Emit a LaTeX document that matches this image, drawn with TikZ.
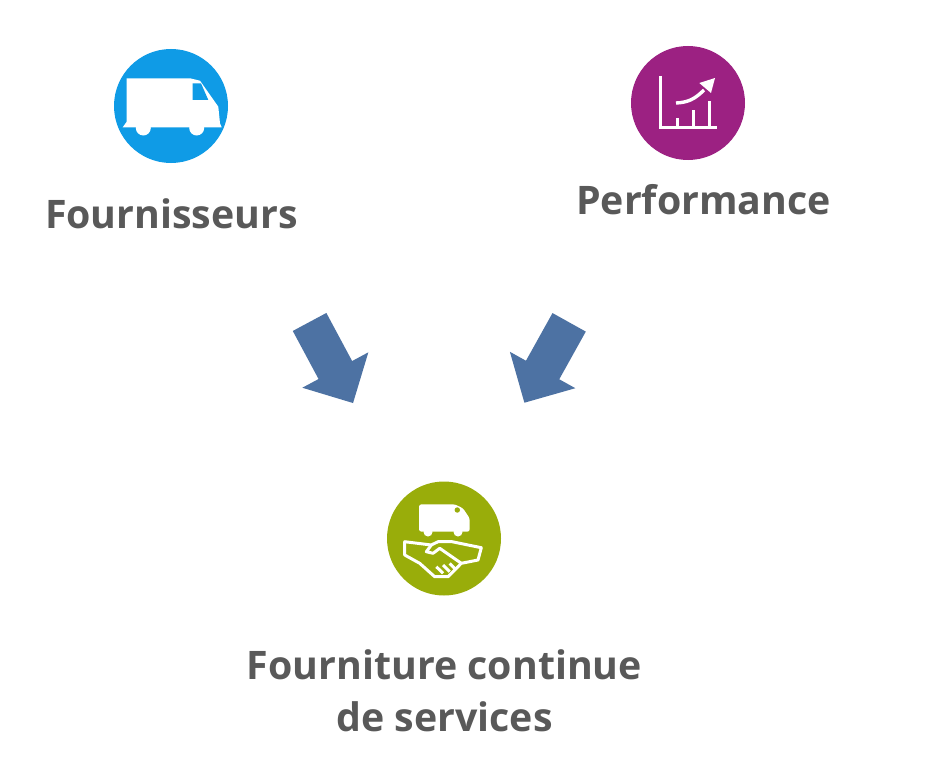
\documentclass[tikz,border=0pt]{standalone}
\usepackage{fontspec}
\setmainfont{Open Sans}
\usetikzlibrary{shapes.arrows,positioning}
\definecolor{azur}{HTML}{0F9BE6}
\definecolor{plum}{HTML}{9C2182}
\definecolor{olive}{HTML}{99AD0A}
\definecolor{steel}{HTML}{4D72A3}
\definecolor{dkgray}{HTML}{595959}
\tikzset{
  rond/.style={circle,fill=#1,minimum size=114pt,inner sep=0pt},
  titre/.style={font=\fontsize{39.3}{52.5}\selectfont\bfseries,align=center,text=dkgray},
  fleche/.style={single arrow,fill=steel,minimum height=92pt,text height=37.7pt,text depth=0pt,
                 text width=0pt,single arrow head extend=18.4pt,single arrow tip angle=90,
                 inner sep=0pt},
  trait/.style={draw=white,line width=3.4pt},
  fin/.style={draw=white,line width=3pt,line join=round},
}
\begin{document}
\begin{tikzpicture}[x=1pt,y=-1pt]
  \useasboundingbox[fill=white] (0,0) rectangle (947,765);

  \node[rond=azur] (four) at (171,106) {};
  \node[rond=plum] (perf) at (688,103) {};
  \node[rond=olive] (serv) at (444,538.5) {};

  \node[titre] (fourlbl) at (171.5,214) {Fournisseurs};
  \node[titre] (perflbl) at (703.5,200) {Performance};
  \node[titre] (servlbl) at (444.5,691) {Fourniture continue\\de services};

  \node[fleche,rotate=-61.8] (fl1) at (326.8,354.1) {};
  \node[fleche,rotate=-119.1] (fl2) at (551.4,354.2) {};

  % camion
  \fill[white] (126.7,78.3) -- (190,78.3) -- (200,80.7) -- (218.3,106.7) -- (220,123.3)
    -- (221.7,127.3) -- (122.7,127.3) -- (126.7,121.7) -- cycle;
  \fill[white] (143.3,128) circle (7.5pt) (196.7,128) circle (7.5pt);
  \fill[azur] (192.7,83.3) -- (201,83.3) -- (208.3,100) -- (192.7,100) -- cycle;

  % graphique
  \draw[trait] (660.7,76) -- (660.7,127.3) -- (716.7,127.3);
  \draw[trait,line width=3pt] (677.3,127) -- (677.3,118) (693.3,127) -- (693.3,109.7)
    (709,127) -- (709,101.3);
  \draw[trait] (676,103) .. controls (688,102.5) and (695,99) .. (704,90);
  \fill[white] (715,78) -- (699.3,83) -- (711,93) -- cycle;

  % camion et poignee de main
  \fill[white,rounded corners=2.5pt] (419,504.3) -- (454.7,504.3) -- (463,508.3) -- (469.7,518.3)
    -- (469.7,531.7) -- (419,531.7) -- cycle;
  \fill[white] (428,532) circle (4.5pt) (458,532) circle (4.5pt);
  \fill[olive] (457.3,510) circle (2.7pt);
  \draw[fin] (404.7,541.7) -- (431.3,545) -- (438,541.7) -- (452,541.7) -- (481.3,547.7) -- (478,560)
    -- (461.3,563.3) -- (448,576.7) -- (434.7,576.7) -- (419.7,563.3) -- (404.7,555) -- cycle;
  \draw[fin] (431.3,545) -- (426.3,551.7) -- (433,553.3) -- (439.7,548.3) -- (461.3,563.3);
  \draw[fin] (436.3,566.7) -- (443,573.3) (443,565) -- (449.7,571.7) (449.7,563.5) -- (455.3,569);
\end{tikzpicture}
\end{document}
